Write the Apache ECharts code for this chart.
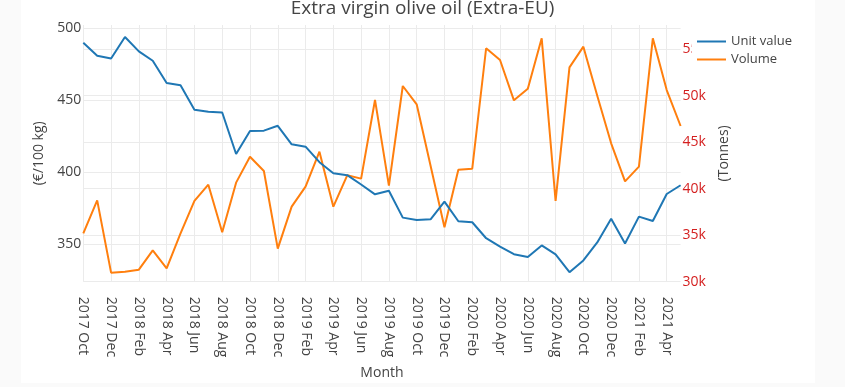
<!DOCTYPE html>
<html>
<head>
<meta charset="utf-8">
<script src="https://cdn.jsdelivr.net/npm/echarts@6/dist/echarts.min.js"></script>
<style>
html,body{margin:0;padding:0;background:#fafafa;}
#chart{width:845px;height:387px;}
</style>
</head>
<body>
<div id="chart"></div>
<script>
const months = [
  "2017 Oct","2017 Nov","2017 Dec",
  "2018 Jan","2018 Feb","2018 Mar","2018 Apr","2018 May","2018 Jun","2018 Jul","2018 Aug","2018 Sep","2018 Oct","2018 Nov","2018 Dec",
  "2019 Jan","2019 Feb","2019 Mar","2019 Apr","2019 May","2019 Jun","2019 Jul","2019 Aug","2019 Sep","2019 Oct","2019 Nov","2019 Dec",
  "2020 Jan","2020 Feb","2020 Mar","2020 Apr","2020 May","2020 Jun","2020 Jul","2020 Aug","2020 Sep","2020 Oct","2020 Nov","2020 Dec",
  "2021 Jan","2021 Feb","2021 Mar","2021 Apr","2021 May"
];
const unitValue = [490, 481, 479, 494, 484, 477.5, 462, 460.5, 443.5, 442, 441.5, 412.7, 428.7, 428.9, 432.3, 419.4, 417.8, 407, 399.3, 398, 391.5, 384.7, 387.2, 368.5, 366.9, 367.3, 379.6, 366, 365.3, 354.2, 348.4, 343.1, 341.2, 349.2, 343, 330.6, 338.8, 351.3, 367.8, 350.5, 369.2, 366.2, 384.9, 391];
const volume = [35200, 38750, 30970, 31080, 31290, 33370, 31440, 35200, 38680, 40430, 35310, 40650, 43440, 41900, 33550, 38070, 40220, 43980, 38070, 41440, 41080, 49540, 40330, 51040, 49070, 42470, 35850, 42040, 42150, 55100, 53840, 49500, 50750, 56170, 38680, 53050, 55270, 50000, 44880, 40790, 42370, 56170, 50600, 46740];
const seriesNames = ["Unit value", "Volume"];
const titleText = "Extra virgin olive oil (Extra-EU)";

const FONT = "'Open Sans', verdana, arial, sans-serif";
const TXT = '#444';
const GRID = '#ebebeb';

const chart = echarts.init(document.getElementById('chart'), null, {renderer: 'canvas'});
chart.setOption({
  backgroundColor: '#fafafa',
  animation: false,
  textStyle: {fontFamily: FONT},
  graphic: [{
    type: 'rect', z: -100, silent: true,
    shape: {x: 21, y: 0, width: 794, height: 383},
    style: {fill: '#ffffff'}
  }],
  title: {
    text: titleText, left: 'center', top: -6,
    textStyle: {fontFamily: FONT, fontSize: 19, fontWeight: 'normal', color: TXT}
  },
  legend: {
    orient: 'vertical', left: 692, top: 32,
    icon: 'rect', itemWidth: 29, itemHeight: 2, itemGap: 5,
    backgroundColor: '#ffffff', padding: [3, 6, 3, 5],
    selectedMode: false,
    textStyle: {fontFamily: FONT, fontSize: 13, color: TXT},
    data: seriesNames
  },
  grid: {left: 83.3, right: 164.4, top: 25, bottom: 105.3, containLabel: false},
  xAxis: {
    type: 'category', data: months, boundaryGap: false,
    name: 'Month', nameLocation: 'middle', nameGap: 84,
    nameTextStyle: {fontFamily: FONT, fontSize: 14, color: TXT},
    axisLine: {show: false}, axisTick: {show: false},
    axisLabel: {interval: 1, rotate: -90, margin: 15, fontFamily: FONT, fontSize: 14, color: TXT},
    splitLine: {show: true, interval: 1, lineStyle: {color: GRID, width: 1}}
  },
  yAxis: [{
    type: 'value', position: 'left', min: 324, max: 502.3, splitNumber: 4,
    name: '(€/100 kg)', nameLocation: 'middle', nameRotate: 90, nameGap: 35,
    nameTextStyle: {fontFamily: FONT, fontSize: 14, color: TXT},
    axisLine: {show: false}, axisTick: {show: false},
    axisLabel: {margin: 2, showMinLabel: false, showMaxLabel: false, fontFamily: FONT, fontSize: 14, color: TXT},
    splitLine: {show: true, showMinLine: false, showMaxLine: false, lineStyle: {color: GRID, width: 1}}
  }, {
    type: 'value', position: 'right', min: 30000, max: 57600, interval: 5000,
    name: '(Tonnes)', nameLocation: 'middle', nameRotate: 90, nameGap: 35,
    nameTextStyle: {fontFamily: FONT, fontSize: 14, color: TXT},
    axisLine: {show: false}, axisTick: {show: false},
    axisLabel: {margin: 2, showMaxLabel: false, fontFamily: FONT, fontSize: 14, color: '#d41f1f',
      formatter: v => (v / 1000) + 'k'},
    splitLine: {show: true, showMaxLine: false, lineStyle: {color: GRID, width: 1}}
  }],
  series: [{
    name: seriesNames[0], type: 'line', yAxisIndex: 0, data: unitValue,
    symbol: 'none', lineStyle: {color: '#1f77b4', width: 2}, itemStyle: {color: '#1f77b4'}, z: 3
  }, {
    name: seriesNames[1], type: 'line', yAxisIndex: 1, data: volume,
    symbol: 'none', lineStyle: {color: '#ff7f0e', width: 2}, itemStyle: {color: '#ff7f0e'}, z: 2
  }]
});
</script>
</body>
</html>
